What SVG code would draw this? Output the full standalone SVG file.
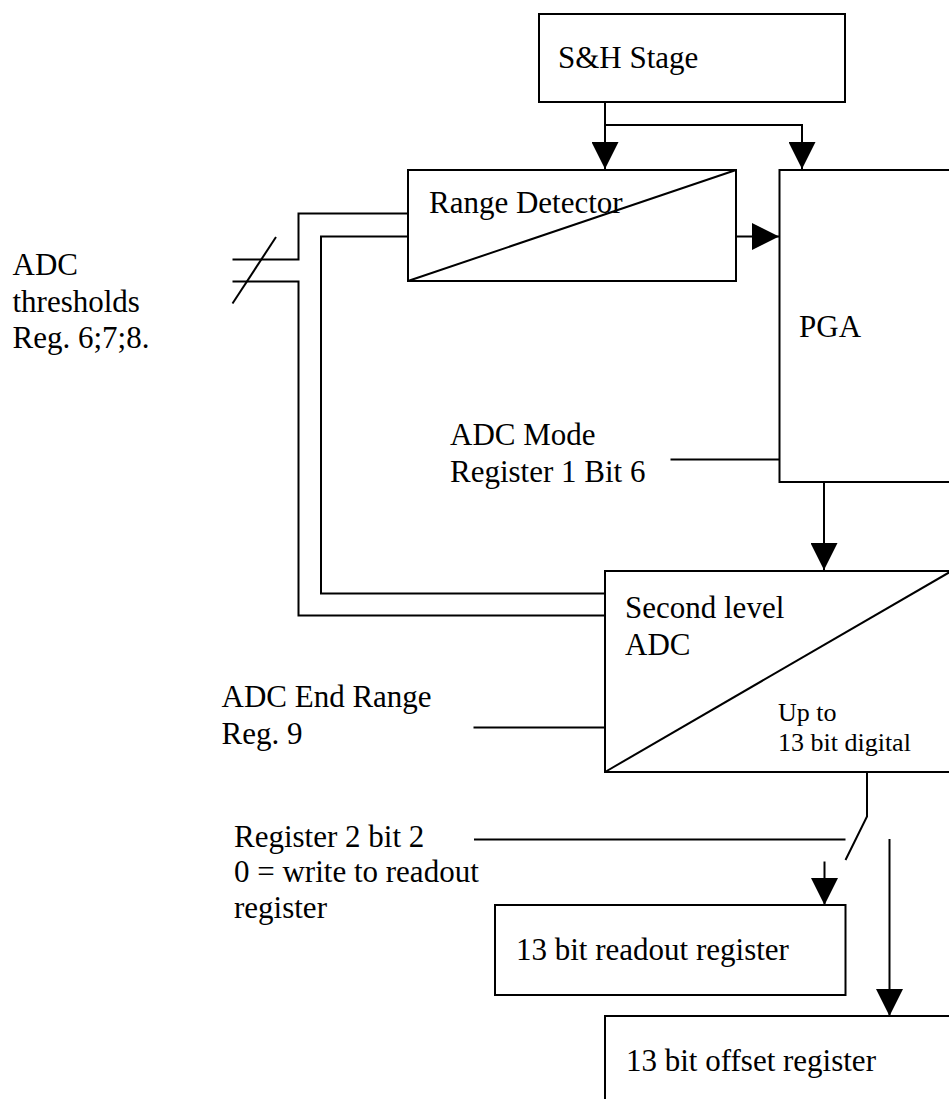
<svg xmlns="http://www.w3.org/2000/svg" width="949" height="1099" viewBox="0 0 949 1099">
<style>
.box{fill:none;stroke:#000;stroke-width:2}
.ln{fill:none;stroke:#000;stroke-width:2}
.t{font-family:"Liberation Serif","Times New Roman",serif;font-size:31px;fill:#000}
.s{font-family:"Liberation Serif","Times New Roman",serif;font-size:26px;fill:#000}
</style>
<defs>
<marker id="ah" markerUnits="userSpaceOnUse" markerWidth="27" markerHeight="27" viewBox="0 0 27 27" refX="27" refY="13.5" orient="auto">
<path d="M0,0 L27,13.5 L0,27 z" fill="#000"/>
</marker>
</defs>
<rect width="949" height="1099" fill="#fff"/>
<g id="sh">
<rect class="box" x="539" y="14" width="306" height="88"/>
<text class="t" x="558" y="68">S&amp;H Stage</text>
</g>
<g id="range">
<rect class="box" x="408" y="170" width="328" height="111"/>
<line class="ln" x1="408" y1="281" x2="736" y2="170"/>
<text class="t" x="429" y="213">Range Detector</text>
</g>
<g id="pga">
<rect class="box" x="779.5" y="170" width="200" height="312"/>
<text class="t" x="799" y="337">PGA</text>
</g>
<g id="adc">
<rect class="box" x="605" y="571" width="350" height="201"/>
<line class="ln" x1="605" y1="772" x2="955" y2="569"/>
<text class="t" x="625" y="618">Second level</text>
<text class="t" x="625" y="655">ADC</text>
<text class="s" x="778" y="721">Up to</text>
<text class="s" x="778" y="751">13 bit digital</text>
</g>
<g id="readout">
<rect class="box" x="495" y="905" width="350.5" height="90"/>
<text class="t" x="516" y="960">13 bit readout register</text>
</g>
<g id="offset">
<rect class="box" x="605" y="1016" width="360" height="100"/>
<text class="t" x="626" y="1071">13 bit offset register</text>
</g>
<g id="labels">
<text class="t" x="12.5" y="275">ADC</text>
<text class="t" x="12.5" y="311.5">thresholds</text>
<text class="t" x="12.5" y="348">Reg. 6;7;8.</text>
<text class="t" x="450" y="445">ADC Mode</text>
<text class="t" x="450" y="481.5">Register 1 Bit 6</text>
<text class="t" x="221.5" y="707">ADC End Range</text>
<text class="t" x="221.5" y="744">Reg. 9</text>
<text class="t" x="234" y="846.5">Register 2 bit 2</text>
<text class="t" x="234" y="881.5">0 = write to readout</text>
<text class="t" x="234" y="918">register</text>
</g>
<g id="connectors">
<path class="ln" d="M605,102 V169" marker-end="url(#ah)"/>
<path class="ln" d="M605,125 H802 V169" marker-end="url(#ah)"/>
<path class="ln" d="M736,236.5 H779" marker-end="url(#ah)"/>
<path class="ln" d="M824,482 V570" marker-end="url(#ah)"/>
<path class="ln" d="M867,772 V816.5 L845.5,860"/>
<path class="ln" d="M474,839.5 H845.5"/>
<path class="ln" d="M824.5,861.5 V905" marker-end="url(#ah)"/>
<path class="ln" d="M889.5,839 V1016" marker-end="url(#ah)"/>
<path class="ln" d="M670.5,459.5 H779"/>
<path class="ln" d="M473.5,727.5 H605"/>
<path class="ln" d="M232.5,259.5 H298.5 V213.5 H408"/>
<path class="ln" d="M232.5,281.5 H298.5 V615.5 H605"/>
<path class="ln" d="M408,236.5 H321 V593.5 H605"/>
<path class="ln" d="M276,237 L232.5,303.5"/>
</g>
</svg>
